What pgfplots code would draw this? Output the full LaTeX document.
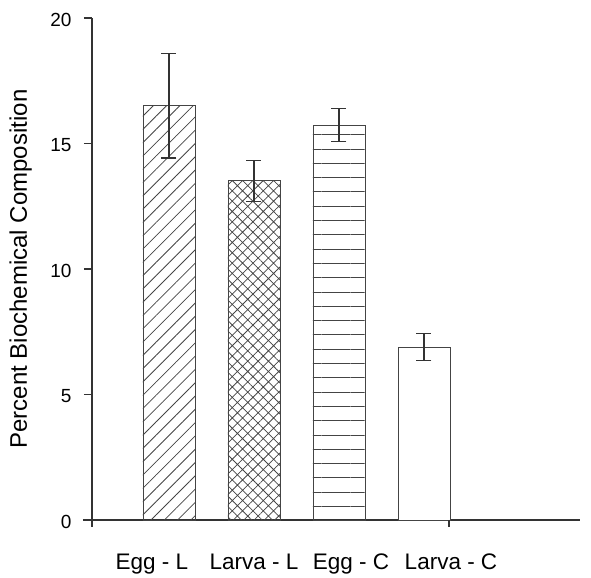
\documentclass[border=0pt]{standalone}
\usepackage{fontspec}
\setmainfont{Liberation Sans}
\usepackage{pgfplots}
\pgfplotsset{compat=1.18}
\usetikzlibrary{patterns.meta}
\definecolor{ax}{HTML}{333333}
\definecolor{bo}{HTML}{444444}
\definecolor{pc}{HTML}{444444}
\begin{document}
\begin{tikzpicture}
\begin{axis}[
  scale only axis, width=488pt, height=502pt,
  xmin=0.0941, xmax=5.835, ymin=0, ymax=20,
  axis x line*=bottom, axis y line*=left,
  axis line style={color=ax, line width=1.1pt, -},
  ytick={0,5,10,15,20},
  tick align=outside, major tick length=8pt,
  ytick style={color=ax, line width=1.1pt},
  yticklabel style={font=\fontsize{19}{21}\selectfont, anchor=east, xshift=-9pt, yshift=-2pt},
  /pgf/number format/assume math mode=true,
  xtick={0.8,2,3.141,4.318},
  xticklabels={Egg - L, Larva - L, Egg - C, Larva - C},
  xtick style={draw=none},
  xticklabel style={font=\fontsize{22.5}{25}\selectfont, anchor=base, yshift=-42pt},
  ylabel={Percent Biochemical Composition},
  ylabel style={font=\fontsize{24}{26}\selectfont, at={(axis description cs:0,0.5)}, anchor=base, yshift=65pt},
  clip=false,
]
\addplot[ybar, bar shift=0pt, bar width=52pt, draw=bo, line width=0.8pt,
  pattern={Lines[angle=45, distance=9.4pt, line width=0.8pt]}, pattern color=pc,
  error bars/.cd, y dir=both, y explicit,
  error bar style={color=ax, line width=1.1pt},
  error mark options={rotate=90, color=ax, line width=1.1pt, mark size=7.5pt}]
  coordinates {(1,16.50) +- (0,2.08)};
\addplot[ybar, bar shift=0pt, bar width=52pt, draw=bo, line width=0.8pt,
  pattern={Hatch[angle=45, distance=7.3pt, line width=0.75pt]}, pattern color=pc,
  error bars/.cd, y dir=both, y explicit,
  error bar style={color=ax, line width=1.1pt},
  error mark options={rotate=90, color=ax, line width=1.1pt, mark size=7.5pt}]
  coordinates {(2,13.52) +- (0,0.82)};
\addplot[ybar, bar shift=0pt, bar width=52pt, draw=bo, line width=0.8pt,
  pattern={Lines[angle=0, distance=14.3pt, line width=0.8pt]}, pattern color=pc,
  error bars/.cd, y dir=both, y explicit,
  error bar style={color=ax, line width=1.1pt},
  error mark options={rotate=90, color=ax, line width=1.1pt, mark size=7.5pt}]
  coordinates {(3,15.74) +- (0,0.67)};
\addplot[ybar, bar shift=0pt, bar width=52pt, draw=bo, line width=0.8pt, fill=white,
  error bars/.cd, y dir=both, y explicit,
  error bar style={color=ax, line width=1.1pt},
  error mark options={rotate=90, color=ax, line width=1.1pt, mark size=7.5pt}]
  coordinates {(4,6.89) +- (0,0.53)};
\draw[ax, line width=1.1pt] (axis cs:-0.012,0) -- (axis cs:0.0941,0);
\draw[ax, line width=1.1pt] (axis cs:0.0941,0) -- ([yshift=-7pt]axis cs:0.0941,0);
\draw[ax, line width=1.1pt] (axis cs:4.294,0) -- ([yshift=-7pt]axis cs:4.294,0);
\path (axis cs:-0.988,20.717) rectangle (axis cs:5.965,-2.191);
\end{axis}
\end{tikzpicture}
\end{document}
